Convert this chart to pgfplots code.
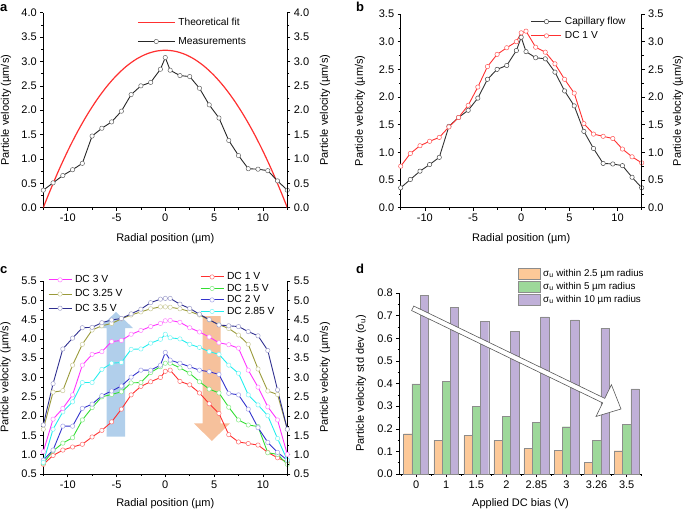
\documentclass[border=0pt]{standalone}
\usepackage{fontspec}
\setmainfont{Liberation Sans}
\usepackage{pgfplots}
\pgfplotsset{compat=1.18}
\definecolor{cred}{HTML}{FF3030}
\definecolor{cgreen}{HTML}{33DD33}
\definecolor{cblue}{HTML}{3333CC}
\definecolor{ccyan}{HTML}{22EEEE}
\definecolor{cmag}{HTML}{FF33FF}
\definecolor{colive}{HTML}{9A9A3A}
\definecolor{cnavy}{HTML}{303090}
\definecolor{borange}{HTML}{FDC998}
\definecolor{bgreen}{HTML}{9DD89A}
\definecolor{bpurple}{HTML}{C0B0D8}
\definecolor{arrblue}{HTML}{9DC3E6}
\definecolor{arrorange}{HTML}{F4B183}
\pgfplotsset{
  base/.style={
    scale only axis,
    /pgf/number format/assume math mode=true,
    tick align=outside,
    major tick length=3pt,
    minor tick length=1.8pt,
    every tick/.style={black, line width=0.5pt},
    axis line style={line width=0.6pt},
    ticklabel style={font=\fontsize{11}{12}\selectfont},
    label style={font=\fontsize{11}{12}\selectfont},
  },
  yfmt/.style={yticklabel style={/pgf/number format/.cd, fixed, fixed zerofill, precision=1}},
  xl/.style={xlabel style={at={(axis description cs:0.5,#1)}, anchor=center}},
  yl/.style={ylabel style={at={(axis description cs:#1,0.5)}, anchor=center}},
  ser/.style n args={2}{color=#1, line width=0.9pt, mark=*, mark size=2.2pt,
     mark options={fill=white, draw=#2, line width=0.5pt}},
  linleg/.style={legend image code/.code={\draw[mark repeat=2,mark phase=2,##1] plot coordinates {(0pt,0pt) (#1/2,0pt) (#1,0pt)};}},
  barleg/.style={legend image code/.code={\draw[##1] (0pt,-5.5pt) rectangle (22pt,5.5pt);}},
}
\pgfplotstableread{
x y
-12.5 0.36
-11.5 0.51
-10.5 0.66
-9.5 0.78
-8.5 0.91
-7.5 1.47
-6.5 1.63
-5.5 1.76
-4.5 1.98
-3.5 2.32
-2.5 2.50
-1.5 2.57
-0.5 2.84
0 3.08
0.5 2.82
1.5 2.71
2.5 2.69
3.5 2.45
4.5 2.11
5.5 1.84
6.5 1.38
7.5 1.07
8.5 0.80
9.5 0.79
10.5 0.76
11.5 0.55
12.5 0.36
}\capillary
\pgfplotstableread{
x y
-12.5 0
-12 0.253
-11 0.729
-10 1.163
-9 1.556
-8 1.907
-7 2.217
-6 2.486
-5 2.713
-4 2.899
-3 3.044
-2 3.147
-1 3.209
0 3.230
1 3.209
2 3.147
3 3.044
4 2.899
5 2.713
6 2.486
7 2.217
8 1.907
9 1.556
10 1.163
11 0.729
12 0.253
12.5 0
}\theory
\pgfplotstableread{
x v1 v15 v2 v285 v3 v325 v35
-12.5 0.75 0.78 0.86 0.80 1.08 1.66 1.77
-11.5 0.98 1.10 1.12 1.66 1.92 2.62 2.84
-10.5 1.12 1.30 1.74 2.11 2.20 2.66 3.74
-9.5 1.20 1.44 1.74 2.37 2.55 3.32 4.02
-8.5 1.27 1.90 2.20 2.87 3.32 3.86 4.29
-7.5 1.46 2.22 2.31 2.87 3.60 4.23 4.30
-6.5 1.63 2.50 2.53 3.21 3.67 4.34 4.42
-5.5 1.85 2.56 2.65 3.37 3.93 4.40 4.49
-4.5 2.18 2.63 2.78 3.39 3.96 4.52 4.53
-3.5 2.55 2.86 3.01 3.73 4.12 4.62 4.65
-2.5 2.77 2.87 3.19 3.74 4.22 4.70 4.77
-1.5 2.89 3.13 3.19 3.89 4.32 4.78 4.94
-0.5 3.00 3.28 3.32 3.99 4.40 4.83 5.03
0 3.16 3.37 3.65 4.12 4.47 4.83 5.05
0.5 3.19 3.37 3.45 4.03 4.48 4.82 5.05
1.5 2.90 3.25 3.37 4.00 4.43 4.78 4.90
2.5 2.81 3.11 3.28 3.86 4.29 4.71 4.79
3.5 2.60 2.89 3.19 3.78 4.18 4.62 4.64
4.5 2.32 2.70 3.15 3.67 4.05 4.49 4.50
5.5 2.07 2.60 3.08 3.60 3.90 4.37 4.36
6.5 1.52 2.23 2.59 3.32 3.85 4.27 4.34
7.5 1.33 1.90 2.55 3.11 3.76 4.10 4.32
8.5 1.29 1.77 2.18 2.55 3.19 3.86 4.19
9.5 1.25 1.73 1.70 2.29 2.75 3.22 4.08
10.5 1.06 1.05 1.32 2.01 2.24 2.65 3.70
11.5 0.92 1.01 1.06 1.42 1.90 2.56 2.68
12.5 0.81 0.75 0.86 0.86 1.01 1.66 1.66
}\dcdata
\pgfplotstableread{
x s25 s5 s10
0 0.178 0.398 0.791
1 0.150 0.408 0.738
2 0.171 0.298 0.675
3 0.149 0.256 0.629
4 0.112 0.228 0.695
5 0.106 0.209 0.681
6 0.053 0.150 0.645
7 0.103 0.221 0.376
}\stdd
\begin{document}
\begin{tikzpicture}
\useasboundingbox (0pt,0pt) rectangle (685pt,-511pt);
% panel labels
\node[anchor=base west, font=\bfseries\fontsize{13}{14}\selectfont, inner sep=0pt] at (0pt,-11.7pt) {a};
\node[anchor=base west, font=\bfseries\fontsize{13}{14}\selectfont, inner sep=0pt] at (356pt,-11.7pt) {b};
\node[anchor=base west, font=\bfseries\fontsize{13}{14}\selectfont, inner sep=0pt] at (0pt,-273.3pt) {c};
\node[anchor=base west, font=\bfseries\fontsize{13}{14}\selectfont, inner sep=0pt] at (356pt,-273.3pt) {d};

% ---------------- panel a
\begin{axis}[base, yfmt, at={(43.3pt,-207.7pt)}, anchor=south west, width=244pt, height=195pt,
  xmin=-12.5, xmax=12.5, ymin=0, ymax=4,
  axis x line*=bottom, axis y line*=left,
  xtick={-10,-5,0,5,10}, minor xtick={-12.5,-7.5,-2.5,2.5,7.5,12.5},
  ytick={0,0.5,...,4}, minor ytick={0.25,0.75,...,3.8},
  xlabel={Radial position (µm)}, ylabel={Particle velocity (µm/s)},
  xl=-0.157, yl=-0.153,
  linleg=37pt,
  legend style={at={(0.384,0.985)}, anchor=north west, draw=none, fill=none, inner sep=0pt,
    font=\fontsize{10.2}{11}\selectfont, row sep=6.5pt, nodes={inner xsep=3pt}},
  legend cell align=left]
\addplot[cred, line width=1.2pt, smooth, no marks] table[x=x,y=y] {\theory};
\addlegendentry{Theoretical fit}
\addplot[ser={black!85}{black!60}] table[x=x,y=y] {\capillary};
\addlegendentry{Measurements}
\end{axis}
\begin{axis}[base, yfmt, at={(43.3pt,-207.7pt)}, anchor=south west, width=244pt, height=195pt,
  xmin=-12.5, xmax=12.5, ymin=0, ymax=4,
  axis x line=none, axis y line*=right,
  ytick={0,0.5,...,4}, minor ytick={0.25,0.75,...,3.8},
  ylabel={Particle velocity (µm/s)}, yl=1.155]
\end{axis}

% ---------------- panel b
\begin{axis}[base, yfmt, at={(400.7pt,-207.7pt)}, anchor=south west, width=241pt, height=193.7pt,
  xmin=-12.5, xmax=12.5, ymin=0, ymax=3.5,
  axis x line*=bottom, axis y line*=left,
  xtick={-10,-5,0,5,10}, minor xtick={-12.5,-7.5,-2.5,2.5,7.5,12.5},
  ytick={0,0.5,...,3.5}, minor ytick={0.25,0.75,...,3.3},
  xlabel={Radial position (µm)}, ylabel={Particle velocity (µm/s)},
  xl=-0.158, yl=-0.169,
  linleg=30pt,
  legend style={at={(0.54,0.995)}, anchor=north west, draw=none, fill=none, inner sep=0pt,
    font=\fontsize{10.2}{11}\selectfont, row sep=1.5pt, nodes={inner xsep=3pt}},
  legend cell align=left]
\addplot[ser={black!80}{black!70}] table[x=x,y=y] {\capillary};
\addlegendentry{Capillary flow}
\addplot[ser={cred}{cred!80}] table[x=x,y=v1] {\dcdata};
\addlegendentry{DC 1 V}
\end{axis}
\begin{axis}[base, yfmt, at={(400.7pt,-207.7pt)}, anchor=south west, width=241pt, height=193.7pt,
  xmin=-12.5, xmax=12.5, ymin=0, ymax=3.5,
  axis x line=none, axis y line*=right,
  ytick={0,0.5,...,3.5}, minor ytick={0.25,0.75,...,3.3},
  ylabel={Particle velocity (µm/s)}, yl=1.151]
\end{axis}

% ---------------- panel c arrows (background)
\fill[arrblue, opacity=0.8] (106.7pt,-436.7pt) -- (106.7pt,-328pt) -- (99pt,-328pt) -- (116pt,-312pt)
  -- (133pt,-328pt) -- (125pt,-328pt) -- (125pt,-436.7pt) -- cycle;
\fill[arrorange, opacity=0.8] (202.7pt,-316pt) -- (202.7pt,-423.3pt) -- (194pt,-423.3pt) -- (211.8pt,-441pt)
  -- (230pt,-423.3pt) -- (220.7pt,-423.3pt) -- (220.7pt,-316pt) -- cycle;

% ---------------- panel c
\begin{axis}[base, yfmt, at={(43.3pt,-474pt)}, anchor=south west, width=244pt, height=193pt,
  xmin=-12.5, xmax=12.5, ymin=0.5, ymax=5.5,
  axis x line*=bottom, axis y line*=left,
  xtick={-10,-5,0,5,10}, minor xtick={-12.5,-7.5,-2.5,2.5,7.5,12.5},
  ytick={0.5,1,...,5.5}, minor ytick={0.75,1.25,...,5.3},
  xlabel={Radial position (µm)}, ylabel={Particle velocity (µm/s)},
  xl=-0.152, yl=-0.155,
  linleg=23pt,
  legend style={at={(0.642,1.055)}, anchor=north west, draw=none, fill=none, inner sep=0pt,
    font=\fontsize{10.3}{11}\selectfont, row sep=-1.2pt, nodes={inner xsep=3pt}},
  legend cell align=left]
\addplot[ser={cred}{cred!70}] table[x=x,y=v1] {\dcdata};
\addlegendentry{DC 1 V}
\addplot[ser={cgreen}{cgreen!60}] table[x=x,y=v15] {\dcdata};
\addlegendentry{DC 1.5 V}
\addplot[ser={cblue}{cblue!45}] table[x=x,y=v2] {\dcdata};
\addlegendentry{DC 2 V}
\addplot[ser={ccyan}{ccyan!60}] table[x=x,y=v285] {\dcdata};
\addlegendentry{DC 2.85 V}
\end{axis}
\begin{axis}[base, yfmt, at={(43.3pt,-474pt)}, anchor=south west, width=244pt, height=193pt,
  xmin=-12.5, xmax=12.5, ymin=0.5, ymax=5.5,
  axis x line=none, axis y line*=right,
  ytick={0.5,1,...,5.5}, minor ytick={0.75,1.25,...,5.3},
  ylabel={Particle velocity (µm/s)}, yl=1.155,
  linleg=23pt,
  legend style={at={(0.019,1.04)}, anchor=north west, draw=none, fill=none, inner sep=0pt,
    font=\fontsize{10.3}{11}\selectfont, row sep=1.5pt, nodes={inner xsep=3pt}},
  legend cell align=left]
\addplot[ser={cmag}{cmag!60}] table[x=x,y=v3] {\dcdata};
\addlegendentry{DC 3 V}
\addplot[ser={colive}{colive!50}] table[x=x,y=v325] {\dcdata};
\addlegendentry{DC 3.25 V}
\addplot[ser={cnavy}{cnavy!45}] table[x=x,y=v35] {\dcdata};
\addlegendentry{DC 3.5 V}
\end{axis}

% ---------------- panel d
\begin{axis}[base, at={(399.3pt,-474pt)}, anchor=south west, width=242.4pt, height=181pt,
  xmin=-0.56, xmax=7.5, ymin=0, ymax=0.8,
  axis x line*=bottom, axis y line*=left,
  ybar=0pt, bar width=8.3pt,
  xtick={0,...,7}, xticklabels={0,1,1.5,2,2.85,3,3.26,3.5},
  minor xtick={-0.5,0.5,...,7.5},
  ytick={0,0.1,...,0.8}, minor ytick={0.05,0.15,...,0.76},
  yticklabel style={/pgf/number format/.cd, fixed, fixed zerofill, precision=1},
  xlabel={Applied DC bias (V)}, ylabel={Particle velocity std dev (σ\textsubscript{u})},
  xl=-0.162, yl=-0.158,
  legend style={at={(0.488,1.145)}, anchor=north west, draw=none, fill=none, inner sep=0pt,
    font=\fontsize{9.8}{10}\selectfont, row sep=0.5pt, nodes={inner xsep=3pt}},
  legend cell align=left]
\addplot[fill=borange, draw=black!45, line width=0.4pt, barleg] table[x=x,y=s25] {\stdd};
\addlegendentry{σ\textsubscript{u} within 2.5 µm radius}
\addplot[fill=bgreen, draw=black!45, line width=0.4pt, barleg] table[x=x,y=s5] {\stdd};
\addlegendentry{σ\textsubscript{u} within 5 µm radius}
\addplot[fill=bpurple, draw=black!45, line width=0.4pt, barleg] table[x=x,y=s10] {\stdd};
\addlegendentry{σ\textsubscript{u} within 10 µm radius}
\end{axis}
% hollow arrow in panel d
\draw[black!65, line width=0.6pt, fill=white] (413.8pt,-306.05pt) -- (604.8pt,-398.35pt) -- (611.4pt,-384.7pt)
  -- (621pt,-409pt) -- (596pt,-416.5pt) -- (602.6pt,-402.85pt) -- (411.6pt,-310.55pt) -- cycle;
\end{tikzpicture}
\end{document}
